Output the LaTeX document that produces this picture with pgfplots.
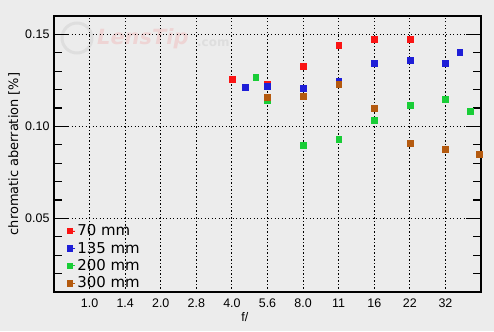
\documentclass[border=0pt]{standalone}
\usepackage{fontspec}
\setmainfont{Liberation Sans}
\newfontfamily\dejavu{DejaVu Sans}
\usepackage{pgfplots}
\pgfplotsset{compat=1.18}
\definecolor{bg}{RGB}{236,236,236}
\definecolor{cred}{RGB}{250,20,20}
\definecolor{cblue}{RGB}{30,30,215}
\definecolor{cgreen}{RGB}{25,205,55}
\definecolor{cbrown}{RGB}{180,90,15}
\definecolor{wm}{RGB}{238,212,212}
\definecolor{wmg}{RGB}{222,222,222}
\begin{document}
\begin{tikzpicture}[x=1bp,y=1bp]
\fill[bg] (0,0) rectangle (494,331);
\draw[wmg, line width=3bp] (77,293) circle (15);
\node[anchor=west, inner sep=0, text=wm, font=\dejavu\bfseries\itshape\fontsize{21}{21}\selectfont] at (97,292) {LensTip};
\node[anchor=west, inner sep=0, text=wmg, font=\dejavu\bfseries\fontsize{12}{12}\selectfont] at (197,288) {.com};
\begin{axis}[
  at={(54bp,39bp)}, anchor=south west,
  scale only axis, width=427bp, height=276bp,
  xmin=-1, xmax=11, ymin=0.01, ymax=0.16,
  axis background/.style={fill=none},
  axis line style={black, line width=1.2bp},
  xtick={0,1,2,3,4,5,6,7,8,9,10},
  xticklabels={1.0,1.4,2.0,2.8,4.0,5.6,8.0,11,16,22,32},
  ytick={0.05,0.10,0.15},
  yticklabels={0.05,0.10,0.15},
  minor ytick={0.02,0.03,0.04,0.06,0.07,0.08,0.09,0.11,0.12,0.13,0.14},
  ytick pos=both, xtick pos=bottom,
  tick align=inside,
  major tick length=15bp, minor tick length=8bp,
  every tick/.style={black, line width=1.2bp},
  x tick style={draw=none},
  xmajorgrids, ymajorgrids,
  major grid style={black, line width=1.1bp, dash pattern=on 1.1bp off 2.4bp},
  ticklabel style={font=\fontsize{12.5}{13}\selectfont},
  /pgf/number format/assume math mode=true,
  yticklabel style={xshift=-1bp},
  xticklabel style={yshift=-3bp},
  xlabel={f/},
  xlabel style={at={(axis description cs:0.447,0)}, anchor=north, inner sep=0, yshift=-20bp, font=\fontsize{12.5}{13}\selectfont},
  ylabel={chromatic aberration [\%]},
  ylabel style={at={(axis description cs:-0.0937,0.5)}, anchor=center, inner sep=0, font=\dejavu\fontsize{13}{14}\selectfont},
  legend style={draw=none, fill=none, at={(axis description cs:0.030,0.252)}, anchor=north west,
    font=\dejavu\fontsize{15}{15}\selectfont, row sep=0.8bp, inner sep=0},
  legend cell align=left,
  legend image code/.code={\fill[#1] (0bp,-2.7bp) rectangle (5.4bp,2.7bp); \path (0,0) -- (8bp,0);},
]
\addplot[only marks, mark=square*, mark size=2.9bp, mark options={draw=cred, fill=cred}, draw=cred, fill=cred] coordinates {
(4,0.1255) (5,0.1228) (6,0.1326) (7,0.1440) (8,0.1473) (9,0.1473)};
\addlegendentry{70 mm}
\addplot[only marks, mark=square*, mark size=2.9bp, mark options={draw=cblue, fill=cblue}, draw=cblue, fill=cblue] coordinates {
(4.38,0.1212) (5,0.1217) (6,0.1207) (7,0.1245) (8,0.1342) (9,0.1359) (10,0.1342) (10.4,0.1402)};
\addlegendentry{135 mm}
\addplot[only marks, mark=square*, mark size=2.9bp, mark options={draw=cgreen, fill=cgreen}, draw=cgreen, fill=cgreen] coordinates {
(4.67,0.1266) (5,0.1141) (6,0.0897) (7,0.0929) (8,0.1033) (9,0.1114) (10,0.1147) (10.7,0.1082)};
\addlegendentry{200 mm}
\addplot[only marks, mark=square*, mark size=2.9bp, mark options={draw=cbrown, fill=cbrown}, draw=cbrown, fill=cbrown] coordinates {
(5,0.1158) (6,0.1163) (7,0.1228) (8,0.1098) (9,0.0908) (10,0.0875) (10.95,0.0848)};
\addlegendentry{300 mm}
\end{axis}
\end{tikzpicture}
\end{document}
